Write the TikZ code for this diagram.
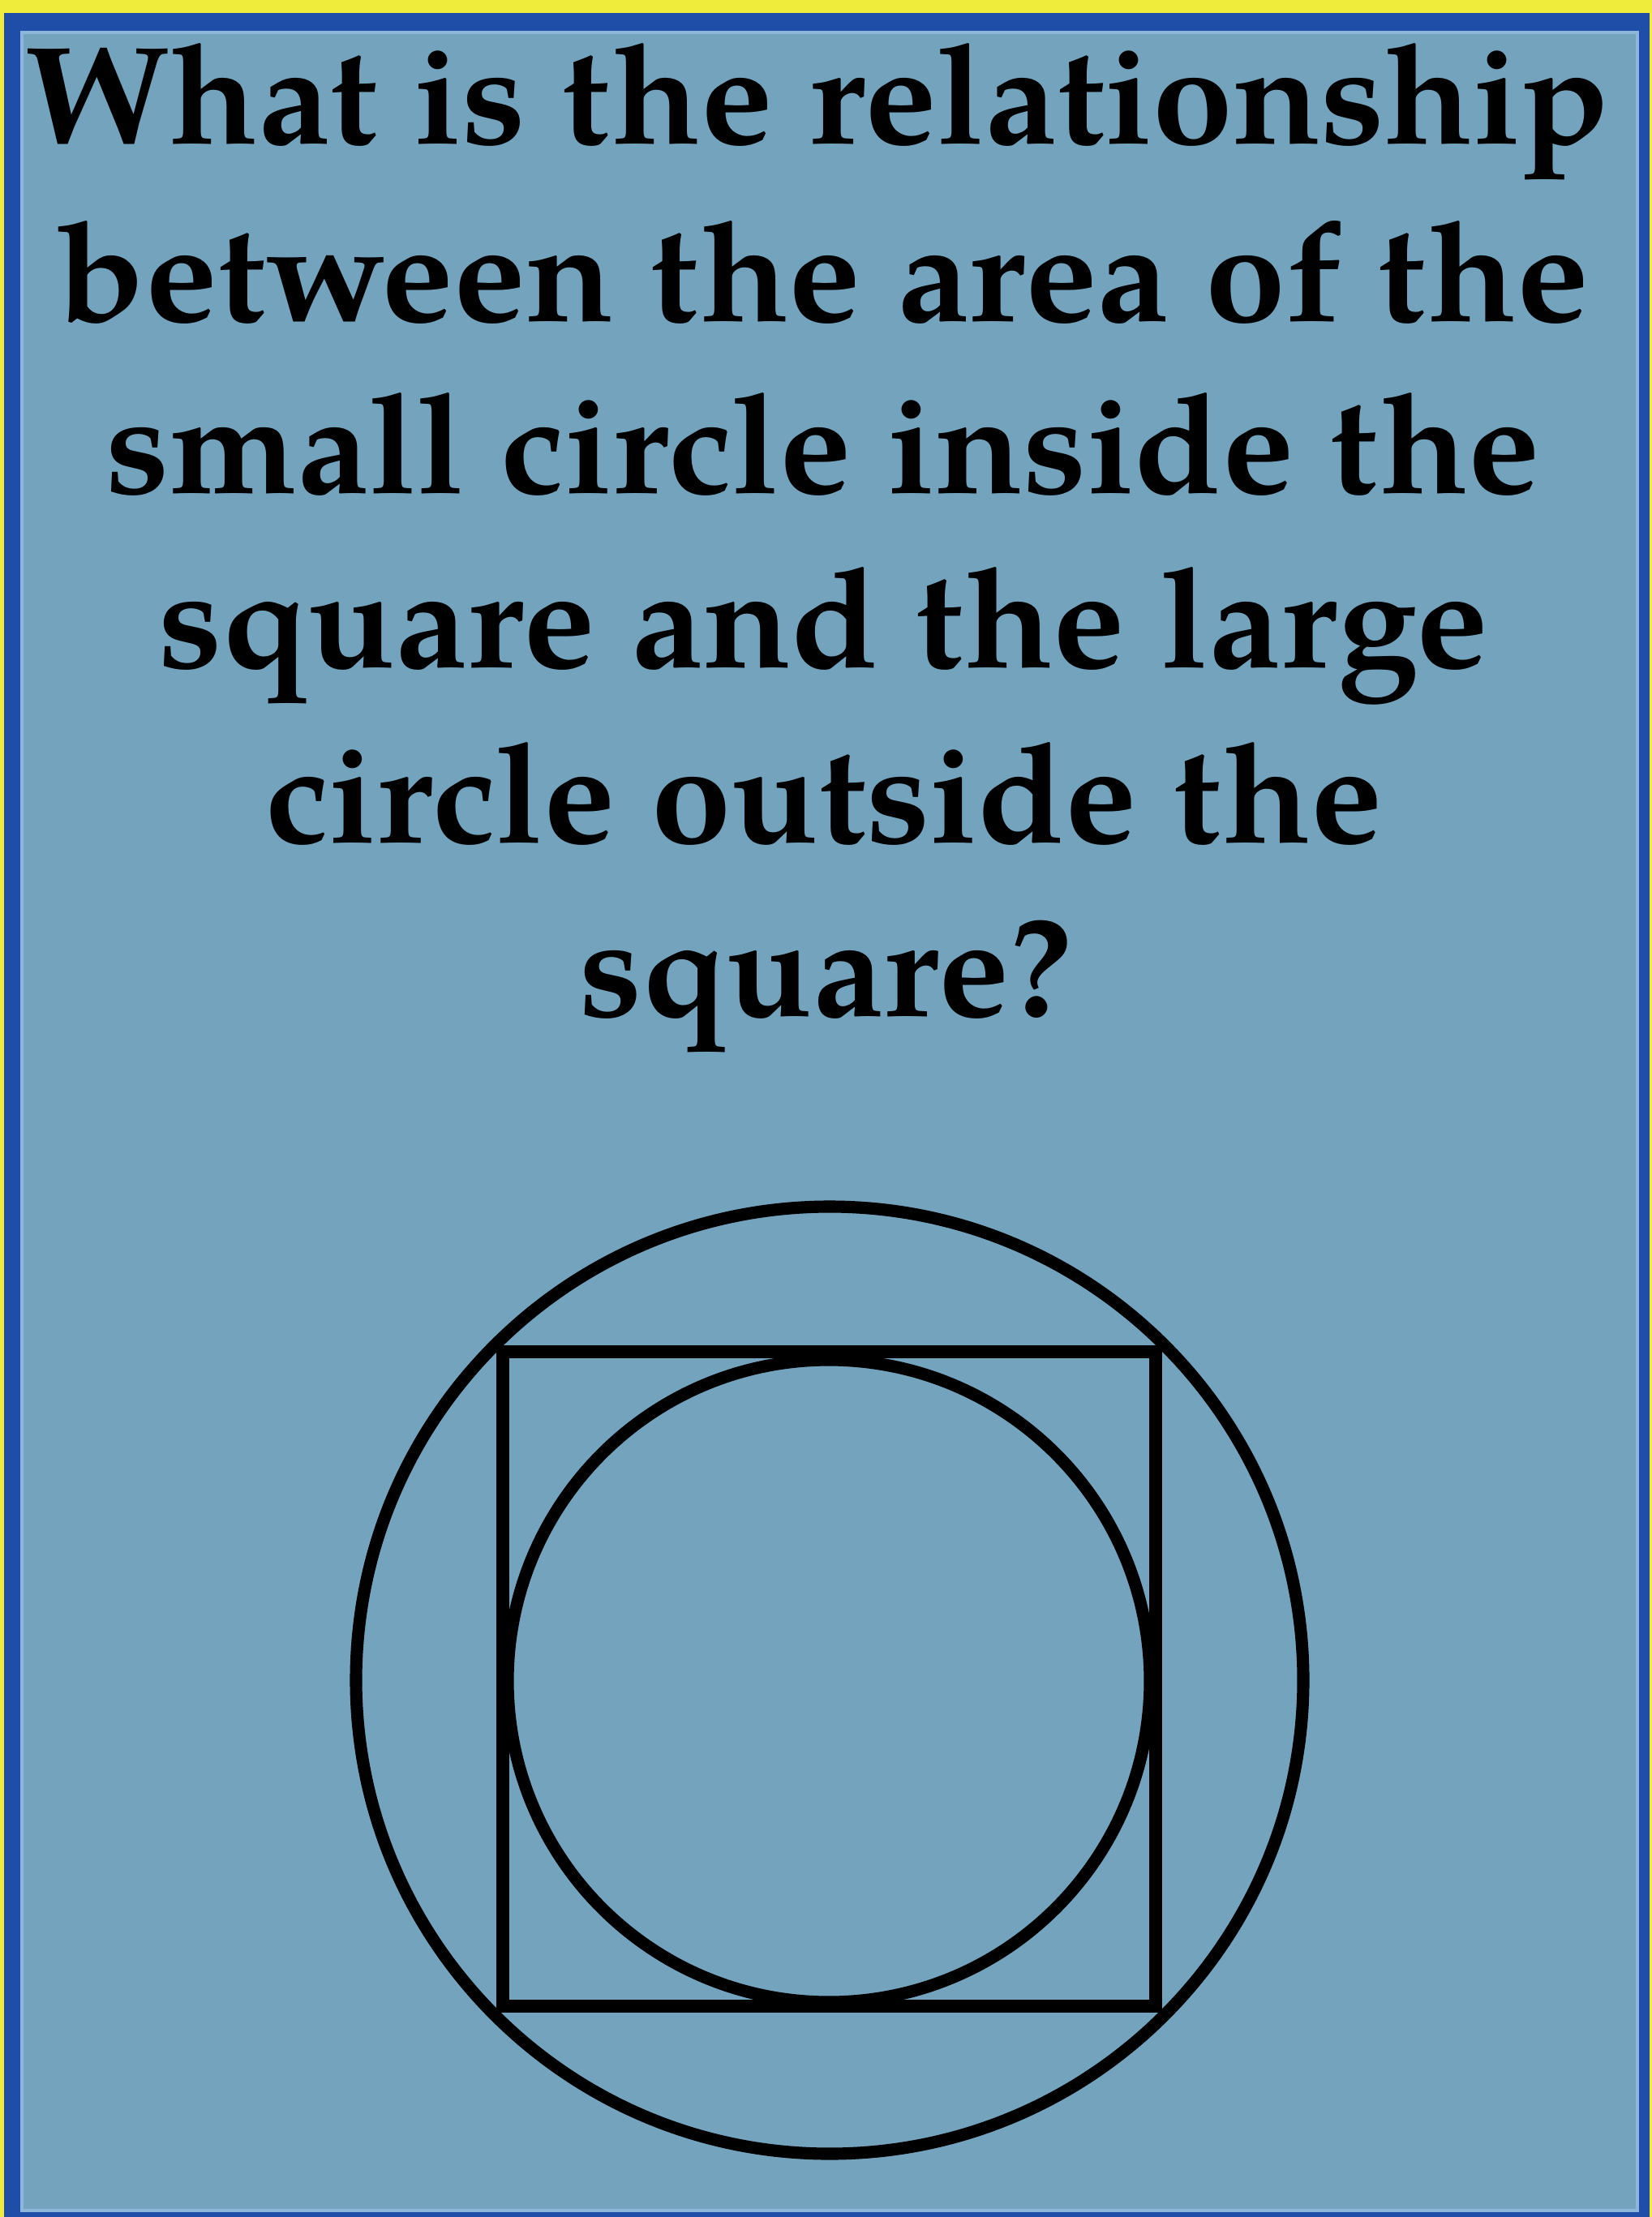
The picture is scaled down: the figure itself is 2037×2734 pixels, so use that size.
\documentclass[tikz,border=0pt]{standalone}
\usepackage{fontspec}
\usepackage{graphicx}
\newfontfamily\pagella{texgyrepagella}[Extension=.otf, UprightFont=*-regular, BoldFont=*-bold]
\definecolor{bgyellow}{HTML}{F0EC3C}
\definecolor{frameblue}{HTML}{1E4EA8}
\definecolor{edgeblue}{HTML}{8DB6D8}
\definecolor{panel}{HTML}{74A3BE}
\newlength\fitw
\newcommand\fitline[2]{\settowidth{\fitw}{#2}\pgfmathsetmacro\fitsx{#1/\fitw}\scalebox{\fitsx}[1]{#2}}
\tikzset{
  qline/.style={anchor=base, inner sep=0pt, text=black, font=\pagella\bfseries\fontsize{49}{58}\selectfont},
  geo/.style={draw=black, line width=4.3pt}
}
\begin{document}
\begin{tikzpicture}[x=0.01cm, y=-0.01cm]
\useasboundingbox (0,0) rectangle (2037,2734);
% frame
\fill[bgyellow] (0,0) rectangle (2037,2734);
\fill[frameblue] (5,16) rectangle (2034,2734);
\fill[panel] (25,38) rectangle (2021,2728);
\draw[edgeblue, line width=1.2pt] (27,40) rectangle (2019,2726);
% question text
\node[qline] (l1) at (1008,178) {\fitline{19.51cm}{What is the relationship}};
\node[qline] (l2) at (1015,397) {\fitline{18.87cm}{between the area of the}};
\node[qline] (l3) at (1015,608) {\fitline{17.67cm}{small circle inside the}};
\node[qline] (l4) at (1015,823) {\fitline{16.39cm}{square and the large}};
\node[qline] (l5) at (1016,1039) {\fitline{13.77cm}{circle outside the}};
\node[qline] (l6) at (1018,1253) {\fitline{6.07cm}{square?}};
% figure
\coordinate (c) at (1023,2072);
\draw[geo] (c) circle (584);
\draw[geo] (620,1667) rectangle (1425,2474);
\draw[geo] (1022,2073) circle (396);
\end{tikzpicture}
\end{document}
